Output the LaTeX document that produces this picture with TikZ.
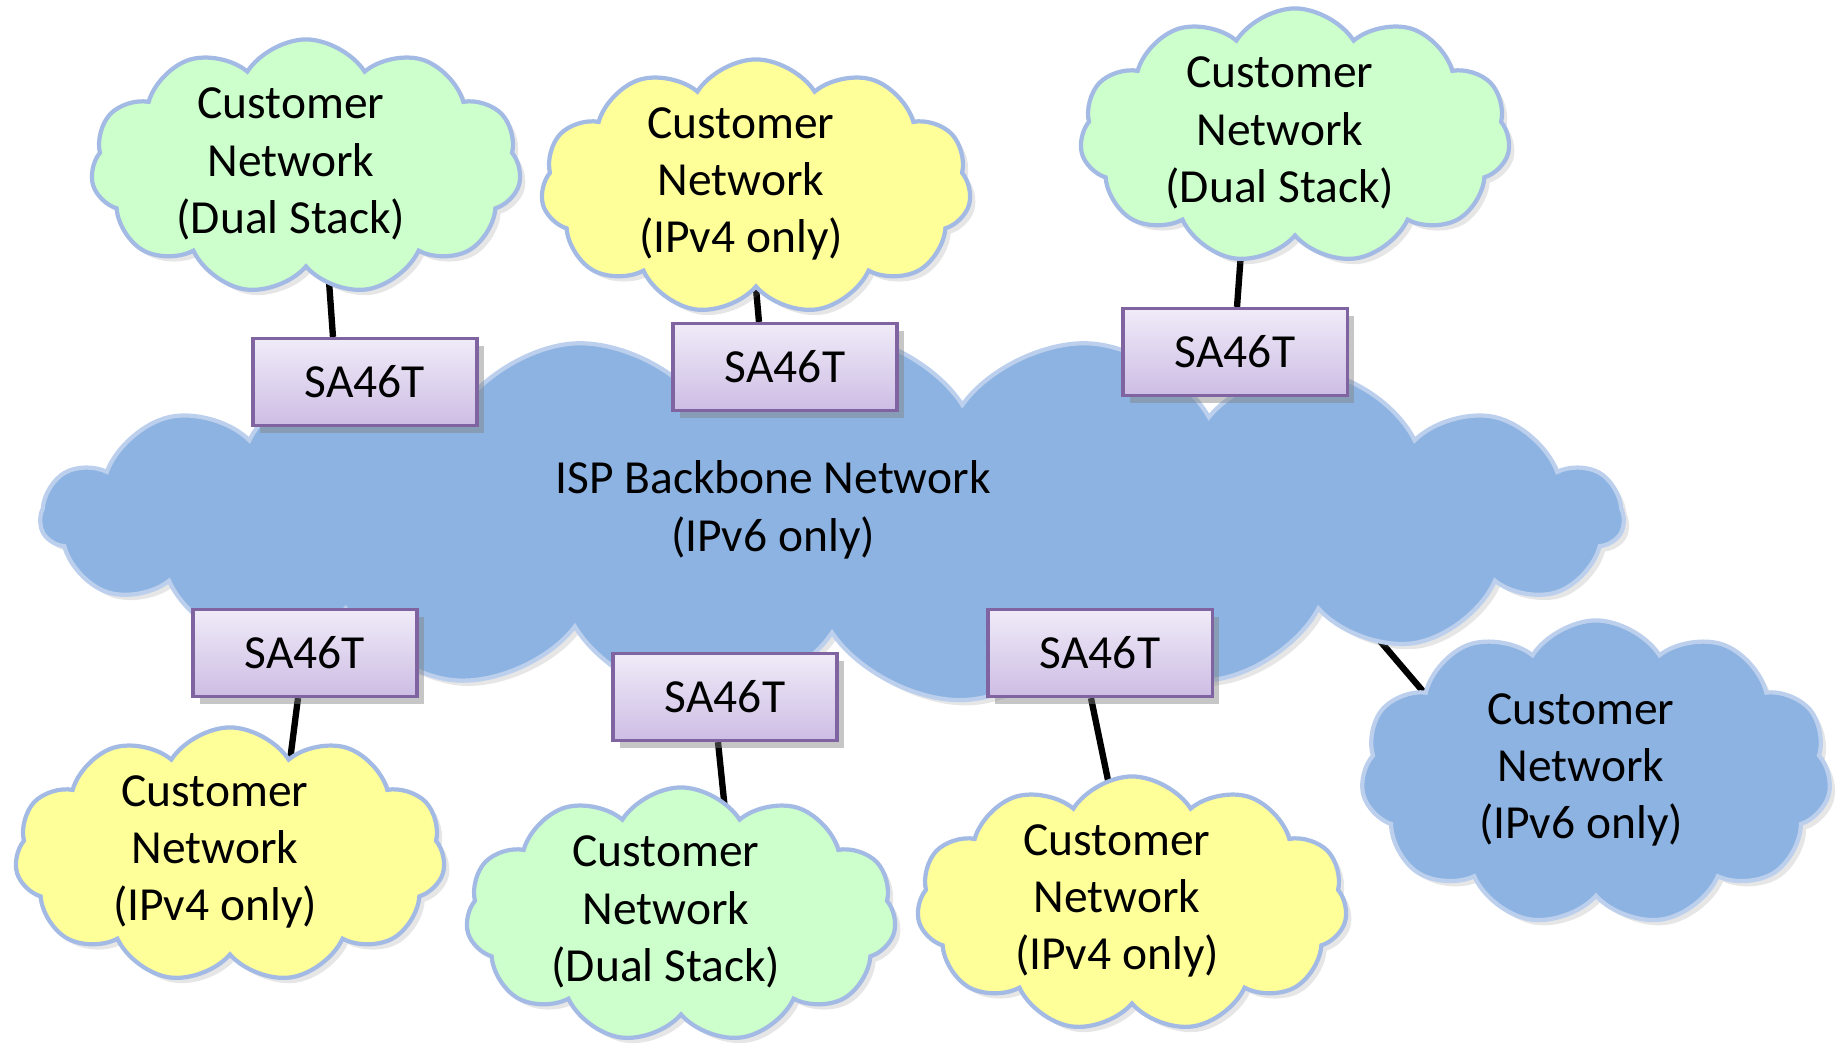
\documentclass[tikz,border=0pt]{standalone}
\usepackage{fontspec}
\setmainfont{Carlito}
\usetikzlibrary{positioning,shapes.symbols,shadows,backgrounds}

\definecolor{dualgreen}{HTML}{CCFFCC}
\definecolor{vfouryellow}{HTML}{FFFF99}
\definecolor{vsixblue}{HTML}{8DB3E2}
\definecolor{cloudedge}{HTML}{A3BBE4}
\definecolor{bluedge}{HTML}{BCD0EE}
\definecolor{boxedge}{HTML}{8064A2}
\definecolor{boxtop}{HTML}{F0EBF8}
\definecolor{boxbottom}{HTML}{CDBDE4}

\begin{document}
\begin{tikzpicture}[x=0.01cm, y=-0.01cm,
	every node/.style={font=\fontsize{13.5}{16.3}\selectfont},
	netcloud/.style={cloud, cloud puffs=11, cloud puff arc=115, aspect=1.7, draw=cloudedge, line width=1.2pt, inner sep=0pt, minimum width=4.3cm, minimum height=2.55cm, drop shadow={shadow xshift=1.5pt, shadow yshift=-1.5pt, opacity=0.2}},
	netname/.style={align=center, xshift=-0.15cm, yshift=0.03cm},
	dualnet/.style={netcloud, fill=dualgreen, label={[netname]center:Customer\\Network\\(Dual Stack)}},
	vfournet/.style={netcloud, fill=vfouryellow, label={[netname]center:Customer\\Network\\(IPv4 only)}},
	vsixnet/.style={netcloud, fill=vsixblue, draw=bluedge},
	sabox/.style={draw=boxedge, line width=0.9pt, top color=boxtop, bottom color=boxbottom, minimum width=2.24cm, minimum height=0.87cm, inner sep=0pt, drop shadow={shadow xshift=2pt, shadow yshift=-2pt, opacity=0.45}},
	link/.style={line width=1.8pt, black}]
	\useasboundingbox (0,0) rectangle (1837,1049);
	% backbone
	\node[vsixnet, cloud puffs=19, aspect=4.3, minimum width=15.82cm, minimum height=3.69cm] (isp) at (832,518) {};
	\node (isplabel) at (773,510) [align=center] {ISP Backbone Network\\(IPv6 only)};
	% customer networks
	\node[dualnet] (c1) at (306,167) {};
	\node[vfournet] (c2) at (756,187) {};
	\node[dualnet] (c3) at (1295,136) {};
	\node[vfournet] (c4) at (230,855) {};
	\node[dualnet] (c5) at (681,915) {};
	\node[vfournet] (c6) at (1132,904) {};
	\node[vsixnet, minimum width=4.7cm, minimum height=3.05cm, label={[netname]center:Customer\\Network\\(IPv6 only)}] (c7) at (1596,773) {};
	% translators
	\node[sabox] (sa1) at (365,382) {SA46T};
	\node[sabox] (sa2) at (785,367) {SA46T};
	\node[sabox] (sa3) at (1235,352) {SA46T};
	\node[sabox] (sa4) at (305,653) {SA46T};
	\node[sabox] (sa5) at (725,697) {SA46T};
	\node[sabox] (sa6) at (1100,653) {SA46T};
	\coordinate (ispport) at (1328,580);
	\coordinate (vsixport) at (1450,723);
	\begin{pgfonlayer}{background}
		\draw[link] ([xshift=-0.32cm]sa1.north) -- ([xshift=0.2cm, yshift=0.3cm]c1.south);
		\draw[link] ([xshift=-0.26cm]sa2.north) -- ([xshift=-0.03cm, yshift=0.35cm]c2.south);
		\draw[link] ([xshift=0.02cm]sa3.north) -- ([xshift=-0.5cm, yshift=0.4cm]c3.south);
		\draw[link] ([xshift=-0.07cm]sa4.south) -- ([xshift=0.6cm, yshift=-0.35cm]c4.north);
		\draw[link] ([xshift=-0.07cm]sa5.south) -- ([xshift=0.44cm, yshift=-0.25cm]c5.north);
		\draw[link] ([xshift=-0.09cm]sa6.south) -- ([xshift=-0.19cm, yshift=-0.3cm]c6.north);
		\draw[link] (ispport) -- (vsixport);
	\end{pgfonlayer}
\end{tikzpicture}
\end{document}
